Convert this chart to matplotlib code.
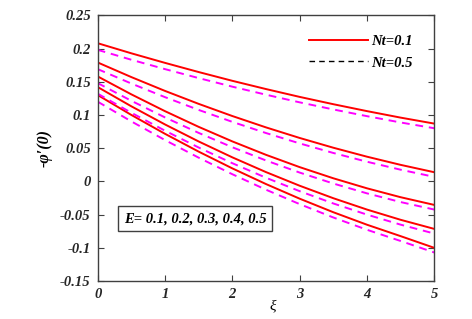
import matplotlib
matplotlib.use("Agg")
import matplotlib.pyplot as plt

xi = [0.0, 0.5, 1.0, 1.5, 2.0, 2.5, 3.0, 3.5, 4.0, 4.5, 5.0]

# Nt = 0.1 (solid red), E = 0.1 ... 0.5 (top to bottom)
nt01 = [
    [0.208, 0.1928, 0.1784, 0.1646, 0.1514, 0.1390, 0.1272, 0.1162, 0.1058, 0.0960, 0.0870],
    [0.179, 0.157, 0.1362, 0.1167, 0.0984, 0.0813, 0.0654, 0.0507, 0.0372, 0.0249, 0.0138],
    [0.158, 0.131, 0.1057, 0.0821, 0.0602, 0.0400, 0.0215, 0.0047, -0.0104, -0.0238, -0.0354],
    [0.142, 0.113, 0.0857, 0.0601, 0.0362, 0.0140, -0.0065, -0.0253, -0.0424, -0.0578, -0.0715],
    [0.130, 0.100, 0.0716, 0.0448, 0.0196, -0.0040, -0.0260, -0.0464, -0.0652, -0.0824, -0.1000],
]
# Nt = 0.5 (dashed magenta)
nt05 = [
    [0.198, 0.1831, 0.1690, 0.1555, 0.1426, 0.1305, 0.1190, 0.1083, 0.0982, 0.0887, 0.0800],
    [0.169, 0.1473, 0.1268, 0.1076, 0.0896, 0.0728, 0.0572, 0.0428, 0.0296, 0.0176, 0.0068],
    [0.148, 0.1213, 0.0963, 0.0730, 0.0514, 0.0315, 0.0133, -0.0032, -0.0180, -0.0311, -0.0424],
    [0.132, 0.1033, 0.0763, 0.0510, 0.0274, 0.0055, -0.0147, -0.0332, -0.0500, -0.0651, -0.0785],
    [0.120, 0.0903, 0.0622, 0.0357, 0.0108, -0.0125, -0.0342, -0.0543, -0.0728, -0.0897, -0.1070],
]

xticks = [0, 1, 2, 3, 4, 5]
yticks = [-0.15, -0.1, -0.05, 0, 0.05, 0.1, 0.15, 0.2, 0.25]
ytick_labels = ["-0.15", "-0.1", "-0.05", "0", "0.05", "0.1", "0.15", "0.2", "0.25"]
legend_labels = ["Nt=0.1", "Nt=0.5"]
annotation = "E= 0.1, 0.2, 0.3, 0.4, 0.5"

serif = ["Liberation Serif", "DejaVu Serif"]
plt.rcParams["font.family"] = serif

fig = plt.figure(figsize=(4.72, 3.19), dpi=100)
ax = fig.add_axes([0.207, 0.119, 0.713, 0.833])

for ys in nt01:
    ax.plot(xi, ys, color="#ff0000", lw=1.4, solid_capstyle="butt")
for ys in nt05:
    ax.plot(xi, ys, color="#ff00ff", lw=1.4, ls=(0, (4, 3)))

ax.set_xlim(0, 5)
ax.set_ylim(-0.15, 0.25)
ax.set_xticks(xticks)
ax.set_xticklabels([str(t) for t in xticks])
ax.set_yticks(yticks)
ax.set_yticklabels(ytick_labels)

for lab in ax.get_xticklabels() + ax.get_yticklabels():
    lab.set_fontweight("bold")
    lab.set_fontstyle("italic")
    lab.set_fontsize(10.5)
    lab.set_color("#262626")

ax.tick_params(direction="in", length=4, width=0.8, top=True, right=True,
               colors="#404040", labelcolor="#262626", pad=5)
for sp in ax.spines.values():
    sp.set_color("#404040")
    sp.set_linewidth(1.0)

ax.set_xlabel("ξ", fontsize=11, fontstyle="italic")
ax.xaxis.set_label_coords(0.52, -0.07)
ax.set_ylabel("-φ′(0)", fontsize=11.5, fontweight="bold", fontstyle="italic")
ax.yaxis.set_label_coords(-0.135, 0.5)

h1, = ax.plot([], [], color="#ff0000", lw=1.4)
h2, = ax.plot([], [], color="black", lw=1.0, ls=(0, (4, 3)))
leg = ax.legend([h1, h2], legend_labels, loc="upper right", frameon=False,
                handlelength=4.0, handletextpad=0.25, labelspacing=0.55,
                bbox_to_anchor=(0.975, 0.975),
                prop={"family": serif, "weight": "bold", "style": "italic", "size": 10.5})

ax.text(0.29, 0.235, annotation, transform=ax.transAxes, ha="center", va="center",
        fontsize=10.5, fontweight="bold", fontstyle="italic",
        bbox=dict(boxstyle="square,pad=0.4", fc="white", ec="#404040", lw=1.0))

fig.savefig("out.png", dpi=100)
